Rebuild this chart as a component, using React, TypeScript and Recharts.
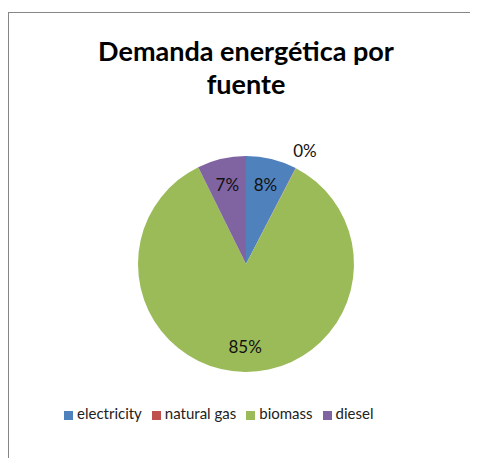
import React from "react";
import { PieChart, Pie, Cell, Legend } from "recharts";

const CATEGORIES = ["electricity", "natural gas", "biomass", "diesel"];
const VALUES = [7.6, 0.05, 85.1, 7.3];
const COLORS = ["#4F81BD", "#C0504D", "#9BBB59", "#8064A2"];
const TITLE_LINES = ["Demanda energética por", "fuente"];

const data = CATEGORIES.map((name, i) => ({ name, value: VALUES[i] }));

const RADIAN = Math.PI / 180;
const FONT = "Lato, 'Open Sans', sans-serif";

function renderLabel(props: any) {
  const { cx, cy, midAngle, outerRadius, percent } = props;
  // tiny slices get their label pushed outside, like Excel does
  const inside = percent > 0.02;
  const r = inside ? outerRadius * 0.76 : outerRadius + 20;
  const x = cx + r * Math.cos(-midAngle * RADIAN);
  const y = cy + r * Math.sin(-midAngle * RADIAN);
  return (
    <text
      x={x}
      y={y}
      textAnchor="middle"
      dominantBaseline="central"
      fill="#111"
      fontSize={17}
      fontFamily={FONT}
    >
      {`${Math.round(percent * 100)}%`}
    </text>
  );
}

export default function App() {
  return (
    <div
      style={{
        position: "relative",
        width: 470,
        height: 450,
        overflow: "hidden",
        fontFamily: FONT,
        background: "#fff",
      }}
    >
      <style>{"html,body{overflow:hidden}"}</style>
      <div
        style={{
          position: "absolute",
          left: 0,
          top: 4,
          width: 470,
          height: 446,
          borderTop: "1px solid #868686",
          borderLeft: "1px solid #868686",
          boxSizing: "border-box",
        }}
      />
      <div
        style={{
          position: "absolute",
          left: 0,
          top: 26,
          width: 476,
          textAlign: "center",
          fontWeight: 700,
          fontSize: 27,
          lineHeight: "33px",
          color: "#000",
        }}
      >
        {TITLE_LINES.map((t) => (
          <div key={t}>{t}</div>
        ))}
      </div>
      <PieChart width={470} height={450} margin={{ top: 0, right: 0, bottom: 0, left: 0 }}>
        <Pie
          data={data}
          dataKey="value"
          nameKey="name"
          cx={238}
          cy={256}
          outerRadius={108}
          startAngle={90}
          endAngle={-270}
          stroke="none"
          label={renderLabel}
          labelLine={false}
          isAnimationActive={false}
        >
          {data.map((_, i) => (
            <Cell key={i} fill={COLORS[i]} />
          ))}
        </Pie>
        <Legend
          layout="horizontal"
          iconType="square"
          iconSize={9}
          itemSorter={(item: any) => CATEGORIES.indexOf(item.value)}
          wrapperStyle={{
            left: 56,
            top: 396,
            bottom: "auto",
            width: "auto",
            fontFamily: FONT,
            fontSize: 15,
          }}
          formatter={(value) => <span style={{ color: "#222" }}>{value}</span>}
        />
      </PieChart>
    </div>
  );
}
